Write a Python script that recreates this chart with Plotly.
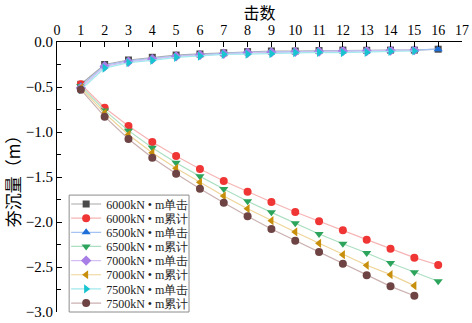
import plotly.graph_objects as go

x16 = list(range(1, 17))
x15 = list(range(1, 16))

single_6000 = [-0.47, -0.25, -0.20, -0.17, -0.145, -0.133, -0.12, -0.107, -0.10, -0.10, -0.095, -0.09, -0.092, -0.09, -0.09, -0.08]
cum_6000 = [-0.47, -0.73, -0.933, -1.111, -1.267, -1.411, -1.544, -1.663, -1.778, -1.889, -1.993, -2.093, -2.196, -2.296, -2.396, -2.478]
single_6500 = [-0.49, -0.26, -0.21, -0.18, -0.155, -0.14, -0.125, -0.115, -0.11, -0.105, -0.10, -0.10, -0.095, -0.092, -0.09, -0.08]
cum_6500 = [-0.49, -0.76, -0.985, -1.174, -1.341, -1.493, -1.633, -1.77, -1.893, -2.015, -2.133, -2.241, -2.344, -2.456, -2.559, -2.659]
single_7000 = [-0.51, -0.27, -0.22, -0.19, -0.16, -0.145, -0.13, -0.12, -0.115, -0.11, -0.105, -0.10, -0.10, -0.095, -0.09]
cum_7000 = [-0.51, -0.79, -1.03, -1.23, -1.404, -1.559, -1.711, -1.852, -1.985, -2.111, -2.237, -2.363, -2.481, -2.585, -2.707]
single_7500 = [-0.53, -0.29, -0.23, -0.205, -0.17, -0.156, -0.137, -0.135, -0.13, -0.117, -0.115, -0.117, -0.115, -0.105, -0.10]
cum_7500 = [-0.53, -0.83, -1.078, -1.285, -1.463, -1.63, -1.785, -1.937, -2.078, -2.207, -2.333, -2.463, -2.593, -2.715, -2.819]

x_ticks = list(range(0, 18))
y_ticks = [0, -0.5, -1.0, -1.5, -2.0, -2.5, -3.0]
y_ticktext = ["0.0", "−0.5", "−1.0", "−1.5", "−2.0", "−2.5", "−3.0"]

names = ["6000kN • m单击", "6000kN • m累计", "6500kN • m单击", "6500kN • m累计",
         "7000kN • m单击", "7000kN • m累计", "7500kN • m单击", "7500kN • m累计"]
xs = [x16, x16, x16, x16, x15, x15, x15, x15]
ys = [single_6000, cum_6000, single_6500, cum_6500, single_7000, cum_7000, single_7500, cum_7500]
marker_colors = ["#4a4a4a", "#f03535", "#1f6fd8", "#2da45c", "#a77ee6", "#c88f0c", "#18c4d0", "#6e4343"]
line_colors = ["#a8a8a8", "#f6b4b4", "#a4c2f2", "#acdfc2", "#d4bff2", "#eed498", "#a2eaee", "#cbb0b0"]
symbols = ["square", "circle", "triangle-up", "triangle-down", "diamond", "triangle-left", "triangle-right", "circle"]
sizes = [7, 8, 8, 8, 8, 8, 8, 8]

fig = go.Figure()
for n, xv, yv, mc, lc, sym, sz in zip(names, xs, ys, marker_colors, line_colors, symbols, sizes):
    fig.add_trace(go.Scatter(
        x=xv, y=yv, name=n, mode="lines+markers",
        line=dict(color=lc, width=1.2),
        marker=dict(color=mc, symbol=sym, size=sz, line=dict(width=0)),
        cliponaxis=False,
    ))

serif = "Liberation Serif"
cjk = "Noto Sans CJK SC"
fig.update_layout(
    width=472, height=323,
    margin=dict(l=57, r=10, t=42, b=11),
    paper_bgcolor="white", plot_bgcolor="white",
    font=dict(family=serif, color="black", size=14),
    showlegend=True,
    legend=dict(
        x=0.03, y=0.0, xanchor="left", yanchor="bottom",
        bgcolor="rgba(0,0,0,0)", borderwidth=0,
        font=dict(family=serif, size=12, color="#222"),
        tracegroupgap=0, itemwidth=30,
    ),
    # legend frame (white box with grey border)
    shapes=[dict(type="rect", xref="paper", yref="paper", x0=0.03, x1=0.326, y0=0.0, y1=0.433,
                 line=dict(color="#8c8c8c", width=1), fillcolor="white", layer="above")],
    xaxis=dict(
        side="top", range=[0, 17], tickmode="array",
        tickvals=x_ticks, ticktext=[str(i) for i in x_ticks],
        showgrid=False, zeroline=False, showline=True, linecolor="black", linewidth=1.2,
        ticks="inside", ticklen=5, tickcolor="black",
        tickfont=dict(family=serif, size=14),
        title=dict(text="击数", font=dict(family=cjk, size=16), standoff=8),
        automargin=False,
    ),
    yaxis=dict(
        range=[-3.0, 0.0], tickmode="array",
        tickvals=y_ticks, ticktext=y_ticktext,
        showgrid=False, zeroline=False, showline=True, linecolor="black", linewidth=1.2,
        ticks="inside", ticklen=5, tickcolor="black",
        minor=dict(tickvals=[-0.25, -0.75, -1.25, -1.75, -2.25, -2.75], ticks="inside", ticklen=4, tickcolor="black"),
        tickfont=dict(family=serif, size=15),
        title=dict(text="夯沉量（m）", font=dict(family=cjk, size=17), standoff=12),
        automargin=False,
    ),
)

# Tighten the legend row spacing after plotly draws it (plotly enforces >=19px rows).
post = r"""
document.documentElement.style.margin = '0';
document.body.style.margin = '0';
document.body.style.padding = '0';
var gd = document.getElementById('{plot_id}');
var STEP = 14.15, TOP = 204, DX = -3;
var re = /translate\(\s*([-\d.e]+)[,\s]+([-\d.e]+)\s*\)/;
function setA(el, k, v){ if(el.getAttribute(k) !== String(v)) el.setAttribute(k, String(v)); }
function fixLegend(){
  try {
    var legend = gd.querySelector('g.legend');
    if(!legend) return;
    var m = re.exec(legend.getAttribute('transform') || '');
    if(!m) return;
    var ly = parseFloat(m[2]);
    var traces = legend.querySelectorAll('g.traces');
    for(var j = 0; j < traces.length; j++){
      var y = Math.round((TOP - ly + STEP * j) * 100) / 100;
      setA(traces[j], 'transform', 'translate(' + DX + ',' + y + ')');
    }
  } catch(e) {}
}
var obs = new MutationObserver(function(){ fixLegend(); });
obs.observe(gd, {subtree: true, childList: true, attributes: true, attributeFilter: ['transform']});
fixLegend();
"""

fig.write_html("out.html", post_script=post, config={"displayModeBar": False, "responsive": False})
